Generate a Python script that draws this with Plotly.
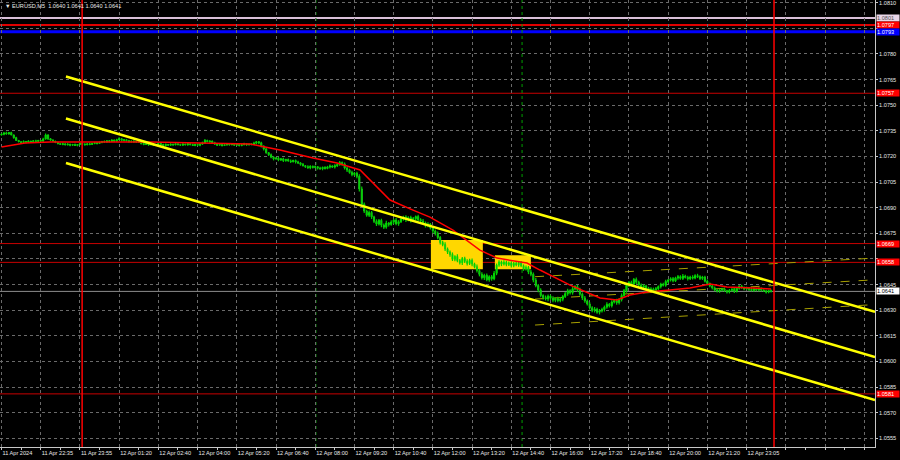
import plotly.graph_objects as go

# ---------------- data ----------------
title_text = "▼ EURUSD,M5  1.0640 1.0641 1.0640 1.0641"
price_base = 1.06          # closes below are in pips above this base
first_open_pips = 132.6
close_pips = [
    133.0, 133.8, 133.2, 134.0, 132.6, 131.0, 129.4, 128.6, 128.2, 128.8,
    128.4, 129.0, 128.6, 129.2, 128.8, 129.4, 129.0, 130.2, 132.6, 130.4,
    129.6, 129.0, 128.2, 127.6, 127.0, 127.4, 126.8, 127.2, 126.6, 127.0,
    126.4, 127.0, 127.6, 127.2, 126.8, 127.4, 127.0, 127.6, 128.0, 127.6,
    128.2, 128.8, 128.4, 129.2, 128.8, 129.6, 129.0, 129.8, 130.4, 129.4,
    129.8, 129.2, 128.6, 129.0, 128.4, 128.8, 128.2, 127.6, 127.0, 127.4,
    126.8, 127.2, 126.6, 127.0, 127.6, 127.0, 126.4, 127.0, 126.6, 127.2,
    126.8, 127.4, 127.0, 126.6, 127.2, 126.8, 127.4, 127.0, 126.4, 127.0,
    126.6, 127.2, 128.0, 129.4, 128.6, 129.0, 128.0, 127.2, 126.6, 127.0,
    126.4, 126.8, 127.4, 126.8, 127.2, 126.6, 127.0, 126.4, 126.8, 127.4,
    126.8, 127.2, 127.0, 127.8, 128.6, 128.0, 126.0, 124.4, 122.2, 121.0,
    119.6, 118.6, 119.0, 118.0, 118.6, 117.6, 118.2, 117.4, 117.0, 117.6,
    116.8, 116.2, 115.4, 114.6, 114.0, 113.4, 114.2, 113.6, 114.0, 113.2,
    112.8, 113.6, 113.0, 113.8, 114.4, 113.8, 114.6, 115.2, 116.4, 115.6,
    113.2, 112.0, 110.6, 109.4, 110.2, 108.4, 101.0, 92.0, 88.0, 85.6,
    87.2, 84.6, 82.0, 80.4, 82.6, 79.8, 78.6, 81.0, 80.2, 81.6,
    82.8, 80.6, 81.8, 83.4, 84.6, 83.0, 84.2, 82.4, 83.6, 84.8,
    83.0, 82.2, 81.0, 79.6, 80.4, 78.2, 76.4, 74.8, 72.6, 69.6,
    68.4, 65.8, 64.0, 62.6, 59.8, 61.4, 59.0, 57.8, 60.2, 58.6,
    57.4, 59.2, 57.0, 55.4, 53.2, 51.0, 49.0, 50.4, 47.8, 49.6,
    48.4, 51.6, 56.4, 58.2, 57.0, 58.0, 56.8, 57.6, 56.2, 57.4,
    56.6, 57.8, 56.0, 54.2, 55.0, 52.4, 51.0, 47.6, 44.4, 41.8,
    38.6, 37.4, 36.6, 38.2, 37.0, 35.8, 36.8, 35.6, 36.4, 38.0,
    39.6, 41.4, 40.2, 42.6, 43.8, 42.0, 39.4, 37.2, 35.4, 33.6,
    31.4, 29.8, 30.6, 28.8, 29.6, 30.4, 31.8, 33.4, 32.6, 34.8,
    35.6, 34.4, 36.2, 38.6, 41.4, 44.6, 46.2, 45.4, 48.0, 46.4,
    44.8, 43.6, 44.2, 42.8, 41.6, 42.4, 41.2, 42.6, 43.8, 45.2,
    44.6, 46.8, 47.6, 48.4, 47.2, 48.8, 49.6, 48.6, 50.0, 49.2,
    48.4, 49.4, 48.8, 50.2, 49.6, 48.6, 49.4, 47.0, 45.6, 44.2,
    43.0, 41.8, 41.2, 41.8, 42.4, 41.4, 40.6, 41.6, 42.2, 41.0,
    42.8, 44.0, 43.2, 42.4, 43.0, 42.2, 41.6, 42.4, 41.8, 42.6,
    41.8, 41.2, 40.6, 41.4, 41.0,
]
# wick lengths beyond the body, in tenths of a pip
upper_wick = [
    5, 3, 6, 2, 4, 3, 5, 2, 4, 6,   3, 5, 2, 4, 6, 3, 2, 7, 9, 4,
    3, 5, 2, 4, 3, 6, 2, 5, 3, 4,   6, 2, 4, 3, 5, 2, 6, 3, 4, 2,
    5, 3, 6, 2, 4, 5, 3, 6, 8, 3,   4, 2, 5, 3, 6, 2, 4, 3, 5, 2,
    4, 6, 3, 2, 5, 3, 4, 6, 2, 4,   3, 5, 2, 4, 6, 3, 5, 2, 4, 3,
    5, 3, 7, 8, 4, 5, 3, 6, 2, 4,   3, 5, 2, 4, 6, 2, 5, 3, 4, 6,
    4, 3, 6, 8, 5, 4, 6, 5, 7, 4,   8, 6, 5, 9, 4, 7, 5, 6, 8, 4,
    6, 7, 5, 8, 4, 9, 6, 5, 7, 4,   8, 5, 6, 7, 9, 5, 8, 6, 10, 7,
    9, 6, 8, 10, 7, 9, 12, 14, 10, 8,   11, 9, 7, 12, 8, 10, 9, 13, 7, 10,
    8, 11, 9, 12, 7, 10, 8, 11, 9, 7,   10, 8, 12, 9, 11, 7, 10, 8, 12, 9,
    11, 13, 9, 10, 12, 8, 14, 10, 9, 11,   12, 9, 11, 8, 13, 10, 12, 9, 11, 8,
    10, 13, 9, 11, 8, 12, 10, 9, 11, 8,   12, 9, 10, 8, 11, 9, 12, 10, 13, 9,
    11, 8, 12, 10, 9, 11, 8, 10, 12, 9,   10, 12, 9, 11, 8, 10, 12, 9, 11, 8,
    10, 9, 12, 8, 11, 10, 9, 12, 8, 10,   9, 11, 8, 12, 10, 13, 9, 11, 8, 12,
    9, 8, 10, 7, 9, 11, 8, 10, 7, 9,   8, 10, 7, 9, 11, 8, 10, 9, 12, 8,
    9, 7, 10, 8, 11, 9, 7, 8, 10, 6,   7, 9, 6, 8, 7, 9, 6, 8, 7, 9,
    8, 6, 9, 7, 8, 6, 9, 7, 6, 8,   7, 5, 8, 6, 7,
]
lower_wick = [
    4, 6, 3, 5, 2, 6, 4, 3, 5, 2,   6, 3, 5, 2, 4, 3, 6, 4, 3, 7,
    5, 3, 4, 6, 2, 5, 3, 4, 6, 3,   3, 5, 2, 6, 4, 3, 5, 2, 4, 6,
    3, 5, 4, 2, 6, 3, 5, 4, 3, 6,   5, 3, 4, 6, 2, 5, 3, 6, 4, 2,
    6, 3, 5, 2, 4, 6, 3, 5, 4, 2,   5, 3, 6, 2, 4, 3, 5, 6, 3, 4,
    4, 6, 3, 5, 2, 6, 4, 3, 5, 2,   5, 3, 6, 4, 2, 5, 3, 6, 4, 3,
    6, 4, 5, 3, 6, 8, 7, 9, 6, 8,   7, 9, 5, 8, 6, 9, 7, 5, 8, 6,
    9, 6, 8, 5, 7, 6, 9, 7, 5, 8,   6, 9, 7, 5, 8, 6, 9, 7, 6, 10,
    8, 11, 7, 10, 9, 12, 15, 12, 11, 9,   10, 12, 9, 11, 8, 13, 10, 9, 12, 8,
    11, 9, 12, 8, 10, 13, 9, 11, 8, 12,   9, 11, 8, 12, 10, 9, 13, 11, 10, 12,
    9, 12, 11, 13, 10, 12, 9, 11, 13, 10,   12, 10, 13, 9, 11, 12, 10, 13, 9, 11,
    12, 9, 11, 10, 12, 8, 11, 9, 12, 10,   9, 11, 8, 12, 10, 13, 11, 12, 10, 13,
    11, 12, 9, 13, 10, 11, 12, 9, 10, 11,   9, 12, 10, 11, 9, 13, 10, 12, 11, 9,
    12, 10, 11, 9, 13, 10, 12, 9, 11, 10,   9, 12, 10, 11, 8, 12, 10, 9, 11, 10,
    8, 10, 9, 11, 8, 9, 10, 8, 9, 11,   8, 9, 10, 8, 9, 7, 10, 8, 9, 7,
    10, 8, 9, 7, 8, 10, 9, 8, 10, 7,   9, 7, 8, 10, 8, 7, 9, 8, 6, 9,
    7, 9, 6, 8, 7, 9, 6, 8, 7, 9,   8, 6, 9, 7, 6,
]

# moving average (bar index, price)
ma_index = [0, 5.5, 9.6, 19.8, 40.2, 60.6, 81.0, 101.4, 107.5, 113.6, 127.1, 136.9,
            146.3, 151.6, 158.5, 167.9, 174.8, 184.2, 195.2, 202.2, 214.4, 219.7,
            232.0, 244.2, 251.1, 256.4, 263.4, 272.8, 280.9, 289.1, 296.0, 306.6, 314.0]
ma_price = [1.07255, 1.07267, 1.07279, 1.07285, 1.07287, 1.07285, 1.07279, 1.07273,
            1.07255, 1.07238, 1.07191, 1.07162, 1.07121, 1.07045, 1.06945, 1.06886,
            1.06845, 1.06769, 1.06652, 1.06605, 1.06576, 1.06535, 1.06447, 1.06371,
            1.06360, 1.06389, 1.06406, 1.06418, 1.06430, 1.06453, 1.06436, 1.06430, 1.06424]

x_labels = ["11 Apr 2024", "11 Apr 22:35", "11 Apr 23:55", "12 Apr 01:20", "12 Apr 02:40",
            "12 Apr 04:00", "12 Apr 05:20", "12 Apr 06:40", "12 Apr 08:00", "12 Apr 09:20",
            "12 Apr 10:40", "12 Apr 12:00", "12 Apr 13:20", "12 Apr 14:40", "12 Apr 16:00",
            "12 Apr 17:20", "12 Apr 18:40", "12 Apr 20:00", "12 Apr 21:20", "12 Apr 23:05"]
bars_per_label = 16

y_tick_values = [1.0555, 1.0570, 1.0585, 1.0600, 1.0615, 1.0630, 1.0645, 1.0660, 1.0675,
                 1.0690, 1.0705, 1.0720, 1.0735, 1.0750, 1.0765, 1.0780, 1.0795, 1.0810]
y_tick_hidden = [1.0660, 1.0795]

# horizontal levels
level_values = [1.0801, 1.0797, 1.0793, 1.0757, 1.0669, 1.0658, 1.0581, 1.0641]
# channel lines: (start index, start price, end index, end price)
channel_lines = [(26.3, 1.07668, 356.4, 1.06290),
                 (26.3, 1.07422, 356.4, 1.06025),
                 (26.3, 1.07162, 356.4, 1.05774)]
dashed_lines = [(217.7, 1.06496, 356.4, 1.06605),
                (217.7, 1.06365, 356.4, 1.06478),
                (217.7, 1.06213, 356.4, 1.06333)]
# zones: (x0, x1, y0, y1)
zones = [(175.2, 196.4, 1.06540, 1.06711),
         (201.3, 216.0, 1.06540, 1.06622)]
red_vlines = [32.9, 315.2]
green_vlines = [128.3, 212.4]

x_range = [-0.61, 356.4]
y_range = [1.05499, 1.08116]

# ---------------- styles ----------------
level_line_colors = ["#D8BFD8", "#E00000", "#0000FF", "#C80000", "#C80000", "#C80000", "#C80000", "#8C8C8C"]
level_line_widths = [2, 2, 3, 1, 1, 1, 1, 1]
level_box_colors = ["#E8D6E8", "#FF0000", "#0000FF", "#FF0000", "#FF0000", "#FF0000", "#FF0000", "#FFFFFF"]
level_text_colors = ["#505050", "#FFFFFF", "#FFFFFF", "#FFFFFF", "#FFFFFF", "#FFFFFF", "#FFFFFF", "#000000"]
FONT = "Liberation Sans, Arial, sans-serif"
FS = 5.6
GRID = "#6a6a6a"
AXIS = "#C8C8C8"

# ---------------- build ----------------
idx = list(range(len(close_pips)))
closes = [price_base + c / 10000 for c in close_pips]
opens = [price_base + first_open_pips / 10000] + closes[:-1]
body_hi = [max(o, c) for o, c in zip(opens, closes)]
body_lo = [min(o, c) for o, c in zip(opens, closes)]
highs = [h + w / 100000 for h, w in zip(body_hi, upper_wick)]
lows = [l - w / 100000 for l, w in zip(body_lo, lower_wick)]

wick_x, wick_y = [], []
for i, h, l in zip(idx, highs, lows):
    wick_x += [i, i, None]
    wick_y += [l, h, None]

fig = go.Figure()
fig.add_trace(go.Scatter(x=wick_x, y=wick_y, mode="lines",
                         line=dict(color="#00D000", width=1.2),
                         hoverinfo="skip", showlegend=False))
fig.add_trace(go.Candlestick(
    x=idx, open=opens, high=body_hi, low=body_lo, close=closes,
    increasing=dict(line=dict(color="#00FF00", width=0.8), fillcolor="#00FF00"),
    decreasing=dict(line=dict(color="#22D022", width=0.8), fillcolor="#22D022"),
    whiskerwidth=0, hoverinfo="skip", showlegend=False,
))
fig.add_trace(go.Scatter(x=ma_index, y=ma_price, mode="lines",
                         line=dict(color="#FF0000", width=1.5),
                         hoverinfo="skip", showlegend=False))

shapes = []
for (x0, x1, y0, y1) in zones:
    shapes.append(dict(type="rect", xref="x", yref="y", x0=x0, x1=x1, y0=y0, y1=y1,
                       fillcolor="#FFD700", line=dict(width=0), layer="between"))
for v, c, w in zip(level_values, level_line_colors, level_line_widths):
    shapes.append(dict(type="line", xref="paper", yref="y", x0=0, x1=1, y0=v, y1=v,
                       line=dict(color=c, width=w), layer="between"))
for gx in green_vlines:
    shapes.append(dict(type="line", xref="x", yref="paper", x0=gx, x1=gx, y0=0, y1=1,
                       line=dict(color="#00A000", width=1, dash="dot"), layer="between"))
for (x0, y0, x1, y1) in dashed_lines:
    shapes.append(dict(type="line", xref="x", yref="y", x0=x0, y0=y0, x1=x1, y1=y1,
                       line=dict(color="#A8A000", width=1, dash="dash"), layer="between"))
for (x0, y0, x1, y1) in channel_lines:
    shapes.append(dict(type="line", xref="x", yref="y", x0=x0, y0=y0, x1=x1, y1=y1,
                       line=dict(color="#FFFF00", width=2.5), layer="above"))
for rx in red_vlines:
    shapes.append(dict(type="line", xref="x", yref="paper", x0=rx, x1=rx, y0=0, y1=1,
                       line=dict(color="#FF0000", width=1.5), layer="above"))

annotations = [dict(x=0, y=1, xref="paper", yref="paper", xanchor="left", yanchor="top",
                    xshift=3, yshift=-1, text=title_text, showarrow=False,
                    font=dict(family=FONT, size=FS, color="#E8E8E8"))]
for v, bg, tc in zip(level_values, level_box_colors, level_text_colors):
    annotations.append(dict(x=1, y=v, xref="paper", yref="y", xanchor="left", yanchor="middle",
                            xshift=1, text=f"{v:.4f}", showarrow=False, bgcolor=bg,
                            width=22, height=6, borderpad=0, align="left",
                            font=dict(family=FONT, size=FS, color=tc)))

x_tick_vals = [k * bars_per_label for k in range(23)]
x_tick_text = x_labels + [""] * (len(x_tick_vals) - len(x_labels))
y_tick_text = ["" if v in y_tick_hidden else f"{v:.4f}" for v in y_tick_values]

fig.update_layout(
    width=900, height=460, autosize=False,
    margin=dict(l=0, r=25, t=0, b=13, pad=0),
    paper_bgcolor="#000000", plot_bgcolor="#000000",
    font=dict(family=FONT, size=FS, color="#E8E8E8"),
    shapes=shapes, annotations=annotations, showlegend=False, hovermode=False,
    xaxis=dict(range=x_range, rangeslider=dict(visible=False), tickmode="array",
               tickvals=x_tick_vals, ticktext=x_tick_text, ticklabelposition="outside right",
               tickangle=0, automargin=False, ticklabeloverflow="allow",
               ticks="outside", ticklen=2, tickcolor=AXIS, showgrid=True, gridcolor=GRID,
               griddash="3px,3px", gridwidth=1, zeroline=False, showline=True,
               linecolor=AXIS, linewidth=1, tickfont=dict(size=FS, color="#E8E8E8"),
               minor=dict(tickmode="array", tickvals=list(range(0, 360, 8)), ticks="outside",
                          ticklen=2, tickcolor=AXIS, showgrid=False)),
    yaxis=dict(range=y_range, side="right", tickmode="array", tickvals=y_tick_values,
               ticktext=y_tick_text, ticks="outside", ticklen=2, tickcolor=AXIS,
               automargin=False, ticklabeloverflow="allow",
               showgrid=True, gridcolor=GRID, griddash="3px,3px", gridwidth=1,
               zeroline=False, showline=True, linecolor=AXIS, linewidth=1,
               tickfont=dict(size=FS, color="#E8E8E8")),
)

fig.write_html("out.html", config={"displayModeBar": False, "staticPlot": True},
               post_script="document.body.style.margin='0';document.body.style.padding='0';"
                           "document.body.style.overflow='hidden';")
